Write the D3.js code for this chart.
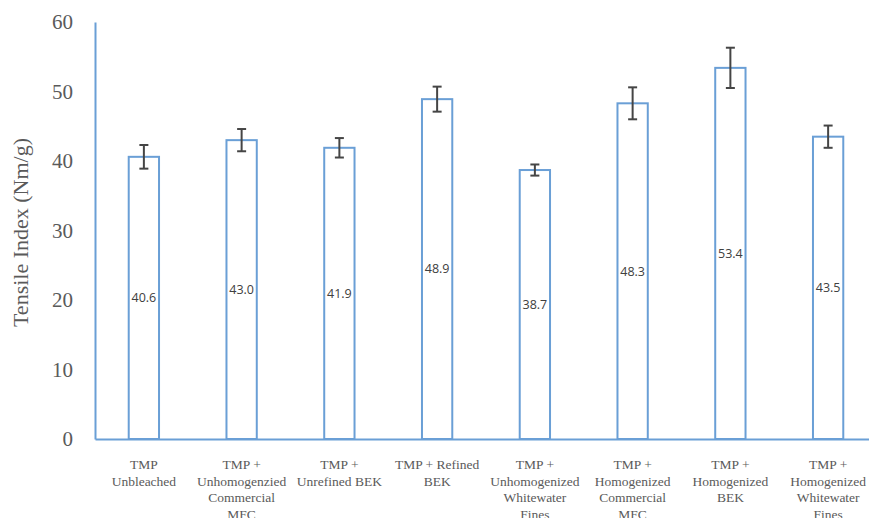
<!DOCTYPE html>
<html>
<head>
<meta charset="utf-8">
<script src="https://cdn.jsdelivr.net/npm/d3@7"></script>
<style>
  html, body { margin: 0; padding: 0; background: #ffffff; }
  svg { display: block; }
</style>
</head>
<body>
<svg id="chart" width="869" height="518"></svg>
<script>
// Sample categories (each label broken into its display lines)
const categories = [
  ["TMP", "Unbleached"],
  ["TMP +", "Unhomogenzied", "Commercial", "MFC"],
  ["TMP +", "Unrefined BEK"],
  ["TMP + Refined", "BEK"],
  ["TMP +", "Unhomogenized", "Whitewater", "Fines"],
  ["TMP +", "Homogenized", "Commercial", "MFC"],
  ["TMP +", "Homogenized", "BEK"],
  ["TMP +", "Homogenized", "Whitewater", "Fines"]
];
// Mean tensile index (Nm/g)
const tensileIndex = [40.6, 43.0, 41.9, 48.9, 38.7, 48.3, 53.4, 43.5];
// Standard deviation for the error bars
const stdDev = [1.7, 1.6, 1.4, 1.8, 0.8, 2.3, 2.9, 1.6];
const yTicks = [0, 10, 20, 30, 40, 50, 60];

const svg = d3.select("#chart");
const plotLeft = 95, plotRight = 877, plotTop = 22, plotBottom = 439;

const x = d3.scaleBand()
  .domain(d3.range(categories.length))
  .range([plotLeft, plotRight])
  .paddingInner(0.69)
  .paddingOuter(0.345);

const y = d3.scaleLinear().domain([0, 60]).range([plotBottom, plotTop]);

const axisColor = "#6a9fd6";
const textGray = "#5a5a5a";

// Y axis: line and tick labels
const yAxis = svg.append("g")
  .attr("transform", `translate(${plotLeft},0)`)
  .call(d3.axisLeft(y).tickValues(yTicks).tickSize(0).tickPadding(22));
yAxis.select(".domain").attr("stroke", axisColor).attr("stroke-width", 2);
yAxis.selectAll("text")
  .attr("font-family", "'Liberation Serif', 'Times New Roman', serif")
  .attr("font-size", 21)
  .attr("fill", textGray);

// Y axis title
svg.append("text")
  .attr("transform", `translate(28,${(plotTop + plotBottom) / 2 + 2}) rotate(-90)`)
  .attr("text-anchor", "middle")
  .attr("font-family", "'Liberation Serif', 'Times New Roman', serif")
  .attr("font-size", 22)
  .attr("fill", textGray)
  .text("Tensile Index (Nm/g)");

// Bars (outlined)
svg.append("g").selectAll("rect")
  .data(tensileIndex)
  .join("rect")
  .attr("x", (d, i) => x(i))
  .attr("y", d => y(d))
  .attr("width", x.bandwidth())
  .attr("height", d => y(0) - y(d))
  .attr("fill", "#ffffff")
  .attr("stroke", axisColor)
  .attr("stroke-width", 2);

// X axis baseline
const xAxis = svg.append("g")
  .attr("transform", `translate(0,${plotBottom})`)
  .call(d3.axisBottom(x).tickSize(0).tickFormat(""));
xAxis.select(".domain").attr("stroke", axisColor).attr("stroke-width", 2);

// Category labels, multi-line
const labels = svg.append("g").selectAll("text")
  .data(categories)
  .join("text")
  .attr("text-anchor", "middle")
  .attr("font-family", "'Liberation Serif', 'Times New Roman', serif")
  .attr("font-size", 13.5)
  .attr("fill", textGray);
labels.each(function (lines, i) {
  const cx = x(i) + x.bandwidth() / 2;
  d3.select(this).selectAll("tspan")
    .data(lines)
    .join("tspan")
    .attr("x", cx)
    .attr("y", (d, k) => 469 + k * 16.5)
    .text(d => d);
});

// Error bars
const err = svg.append("g")
  .attr("stroke", "#454545")
  .attr("stroke-width", 2);
tensileIndex.forEach((v, i) => {
  const cx = x(i) + x.bandwidth() / 2;
  const hi = y(v + stdDev[i]), lo = y(v - stdDev[i]);
  err.append("line").attr("x1", cx).attr("x2", cx).attr("y1", hi).attr("y2", lo);
  err.append("line").attr("x1", cx - 4.5).attr("x2", cx + 4.5).attr("y1", hi).attr("y2", hi);
  err.append("line").attr("x1", cx - 4.5).attr("x2", cx + 4.5).attr("y1", lo).attr("y2", lo);
});

// Value labels at the middle of each bar
svg.append("g").selectAll("text")
  .data(tensileIndex)
  .join("text")
  .attr("x", (d, i) => x(i) + x.bandwidth() / 2)
  .attr("y", d => y(d / 2))
  .attr("dy", "0.35em")
  .attr("text-anchor", "middle")
  .attr("font-family", "'Open Sans', 'Liberation Sans', sans-serif")
  .attr("font-size", 12.5)
  .attr("fill", "#404040")
  .text(d => d.toFixed(1));
</script>
</body>
</html>
